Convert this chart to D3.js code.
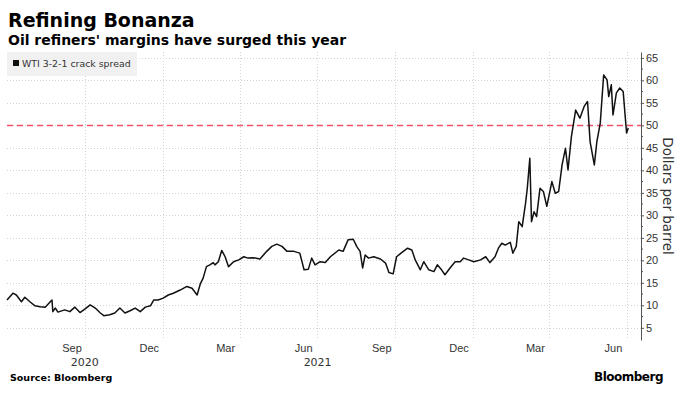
<!DOCTYPE html>
<html>
<head>
<meta charset="utf-8">
<script src="https://cdn.jsdelivr.net/npm/d3@7"></script>
<style>
  body { margin: 0; background: #fff; }
  svg { display: block; font-family: "DejaVu Sans", Verdana, sans-serif; }
</style>
</head>
<body>
<svg id="chart" width="693" height="397"></svg>
<script>
// WTI 3-2-1 crack spread, dollars per barrel
const dates = [
  '2020-07-01','2020-07-08','2020-07-12','2020-07-18','2020-07-22','2020-07-28','2020-08-03','2020-08-09',
  '2020-08-15','2020-08-21','2020-08-23','2020-08-24','2020-08-27','2020-08-30','2020-09-07','2020-09-13',
  '2020-09-19','2020-09-25','2020-10-01','2020-10-07','2020-10-13','2020-10-19','2020-10-23','2020-10-30',
  '2020-11-05','2020-11-11','2020-11-17','2020-11-23','2020-11-29','2020-12-05','2020-12-11','2020-12-17',
  '2020-12-21','2020-12-26','2021-01-01','2021-01-07','2021-01-13','2021-01-21','2021-01-29','2021-02-04',
  '2021-02-10','2021-02-14','2021-02-17','2021-02-21','2021-02-25','2021-03-01','2021-03-03','2021-03-07',
  '2021-03-11','2021-03-15','2021-03-19','2021-03-25','2021-03-31','2021-04-06','2021-04-11','2021-04-17',
  '2021-04-25','2021-05-03','2021-05-09','2021-05-15','2021-05-21','2021-05-27','2021-06-04','2021-06-11',
  '2021-06-16','2021-06-21','2021-06-25','2021-06-29','2021-07-05','2021-07-11','2021-07-17','2021-07-27',
  '2021-08-01','2021-08-07','2021-08-13','2021-08-17','2021-08-21','2021-08-24','2021-08-27','2021-08-31',
  '2021-09-06','2021-09-14','2021-09-20','2021-09-24','2021-09-29','2021-10-03','2021-10-09','2021-10-16',
  '2021-10-21','2021-10-25','2021-10-31','2021-11-04','2021-11-10','2021-11-16','2021-11-20','2021-11-25',
  '2021-11-29','2021-12-05','2021-12-11','2021-12-17','2021-12-21','2021-12-27','2022-01-02','2022-01-10',
  '2022-01-16','2022-01-21','2022-01-27','2022-01-31','2022-02-04','2022-02-08','2022-02-14','2022-02-17',
  '2022-02-21','2022-02-24','2022-02-28','2022-03-04','2022-03-06','2022-03-09','2022-03-11','2022-03-14',
  '2022-03-17','2022-03-21','2022-03-25','2022-03-29','2022-04-04','2022-04-08','2022-04-12','2022-04-16',
  '2022-04-20','2022-04-23','2022-04-27','2022-05-02','2022-05-07','2022-05-12','2022-05-16','2022-05-19',
  '2022-05-24','2022-05-27','2022-05-31','2022-06-04','2022-06-08','2022-06-10','2022-06-13','2022-06-15',
  '2022-06-19','2022-06-23','2022-06-27','2022-07-01','2022-07-03'
];
const spread = [
  11.2,12.7,12.3,10.8,11.8,10.8,9.9,9.7,
  9.6,10.8,11.2,8.6,9.4,8.5,9.0,8.6,
  9.6,8.4,9.2,10.1,9.4,8.3,7.7,7.9,
  8.3,9.4,8.3,8.8,9.4,8.6,9.6,9.9,
  11.2,11.2,11.6,12.3,12.7,13.4,14.2,13.8,
  12.3,14.9,16.0,18.6,19.0,19.5,19.0,19.7,
  22.2,20.8,18.6,19.7,20.1,20.8,20.5,20.6,
  20.3,22.0,23.1,23.6,23.1,22.0,22.0,21.6,
  17.9,18.0,20.5,19.0,19.7,19.5,20.8,22.3,
  22.0,24.6,24.7,23.1,22.0,18.3,21.2,20.5,
  20.8,20.3,19.4,17.3,17.0,20.8,21.7,22.7,
  22.3,20.1,17.9,19.7,17.9,17.5,19.0,17.9,
  16.8,18.3,19.7,19.7,20.5,20.1,19.7,20.1,
  20.8,19.5,20.8,22.7,23.8,23.4,24.0,21.6,
  23.1,28.6,27.5,32.7,36.0,42.7,28.6,30.8,
  29.7,36.0,35.3,32.0,37.5,34.9,35.3,41.2,
  44.9,40.1,47.5,53.4,51.6,54.2,55.3,46.4,
  41.2,46.4,50.5,61.2,60.1,56.4,59.0,52.3,
  57.2,58.3,57.5,48.3,49.4
];

const yTicks = [5, 10, 15, 20, 25, 30, 35, 40, 45, 50, 55, 60, 65];
const refLevel = 50;
const gridDates = ['2020-10-01','2021-01-01','2021-04-01','2021-07-01','2021-10-01','2022-01-01','2022-04-01','2022-07-01'];
const monthTickDates = ['2020-09-15','2020-12-15','2021-03-15','2021-06-15','2021-09-15','2021-12-15','2022-03-15','2022-06-15'];
const monthLabels = ['Sep','Dec','Mar','Jun','Sep','Dec','Mar','Jun'];
const yearLabels = ['2020','2021'];

const parseDate = d3.timeParse('%Y-%m-%d');
const data = dates.map((d, i) => ({ date: parseDate(d), value: spread[i] }));

const svg = d3.select('#chart');
const plotLeft = 7, plotRight = 641, plotTop = 52, plotBottom = 340;

/*********** Scales *******************/
const x = d3.scaleTime()
  .domain([parseDate('2020-07-01'), parseDate('2022-07-18')])
  .range([plotLeft, plotRight]);

const y = d3.scaleLinear()
  .domain([2.3, 66.3])
  .range([plotBottom, plotTop]);
/**************************************/

/*********** Grid *********************/
svg.append('g')
  .selectAll('line')
  .data(yTicks)
  .join('line')
    .attr('x1', plotLeft).attr('x2', plotRight)
    .attr('y1', d => Math.round(y(d)) + 0.5).attr('y2', d => Math.round(y(d)) + 0.5)
    .attr('stroke', '#d4d4d4')
    .attr('stroke-dasharray', '1,2');

svg.append('g')
  .selectAll('line')
  .data(gridDates.map(parseDate))
  .join('line')
    .attr('x1', d => Math.round(x(d)) + 0.5).attr('x2', d => Math.round(x(d)) + 0.5)
    .attr('y1', plotTop).attr('y2', plotBottom - 2)
    .attr('stroke', '#d4d4d4')
    .attr('stroke-dasharray', '1,2');
/**************************************/

/*********** Reference line **********/
svg.append('line')
  .attr('x1', plotLeft).attr('x2', plotRight)
  .attr('y1', Math.round(y(refLevel)) + 0.5).attr('y2', Math.round(y(refLevel)) + 0.5)
  .attr('stroke', '#f2506a')
  .attr('stroke-width', 1.3)
  .attr('stroke-dasharray', '6,4');
/**************************************/

/*********** Line *********************/
const line = d3.line()
  .x(d => x(d.date))
  .y(d => y(d.value));

svg.append('path')
  .datum(data)
  .attr('d', line)
  .attr('fill', 'none')
  .attr('stroke', '#111')
  .attr('stroke-width', 1.5)
  .attr('stroke-linejoin', 'round');
/**************************************/

/*********** Y axis *******************/
const yAxis = svg.append('g')
  .attr('transform', `translate(${plotRight},0)`)
  .call(d3.axisRight(y).tickValues(yTicks).tickSize(3).tickPadding(2).tickSizeOuter(0));
yAxis.select('.domain').attr('stroke', '#555');
yAxis.selectAll('.tick line').attr('stroke', '#555');
yAxis.selectAll('text')
  .attr('fill', '#333')
  .style('font-size', '11px');

svg.append('g')
  .attr('transform', `translate(${plotRight},0)`)
  .selectAll('line')
  .data(yTicks.map(d => d + 2.5).filter(d => d < 66))
  .join('line')
    .attr('x1', 0).attr('x2', 2)
    .attr('y1', d => y(d)).attr('y2', d => y(d))
    .attr('stroke', '#555');

svg.append('text')
  .attr('transform', `translate(663,${(plotTop + plotBottom) / 2}) rotate(90)`)
  .attr('text-anchor', 'middle')
  .attr('fill', '#333')
  .style('font-size', '13.5px')
  .text('Dollars per barrel');
/**************************************/

/*********** X axis labels ************/
const xAxis = svg.append('g')
  .attr('transform', `translate(0,${plotBottom})`)
  .call(d3.axisBottom(x)
    .tickValues(monthTickDates.map(parseDate))
    .tickFormat((d, i) => monthLabels[i])
    .tickSize(0)
    .tickPadding(4));
xAxis.select('.domain').remove();
xAxis.selectAll('text').attr('fill', '#333').style('font-size', '11px');

svg.append('g')
  .selectAll('text')
  .data(yearLabels)
  .join('text')
    .attr('x', d => {
      const a = d3.max([x.domain()[0], parseDate(d + '-01-01')]);
      const b = d3.min([x.domain()[1], parseDate(d + '-12-31')]);
      return (x(a) + x(b)) / 2;
    })
    .attr('y', 366)
    .attr('text-anchor', 'middle')
    .attr('fill', '#333')
    .style('font-size', '11px')
    .text(d => d);
/**************************************/

/*********** Legend *******************/
svg.append('rect')
  .attr('x', 7).attr('y', 52)
  .attr('width', 130).attr('height', 24)
  .attr('fill', '#eeeeee')
  .attr('fill-opacity', 0.85);
svg.append('rect')
  .attr('x', 13).attr('y', 60)
  .attr('width', 6).attr('height', 6)
  .attr('fill', '#111');
svg.append('text')
  .attr('x', 22).attr('y', 67)
  .attr('fill', '#333')
  .style('font-size', '9.4px')
  .text('WTI 3-2-1 crack spread');
/**************************************/

/*********** Title and source *********/
svg.append('text')
  .attr('x', 8).attr('y', 27)
  .style('font-size', '19px')
  .style('font-weight', 'bold')
  .text('Refining Bonanza');

svg.append('text')
  .attr('x', 8).attr('y', 45)
  .style('font-size', '14px')
  .style('font-weight', 'bold')
  .text("Oil refiners' margins have surged this year");

svg.append('text')
  .attr('x', 10).attr('y', 381)
  .style('font-size', '9.5px')
  .style('font-weight', 'bold')
  .text('Source: Bloomberg');

svg.append('text')
  .attr('x', 594).attr('y', 381)
  .style('font-size', '12px')
  .style('font-weight', 'bold')
  .style('letter-spacing', '-0.5px')
  .text('Bloomberg');
/**************************************/
</script>
</body>
</html>
